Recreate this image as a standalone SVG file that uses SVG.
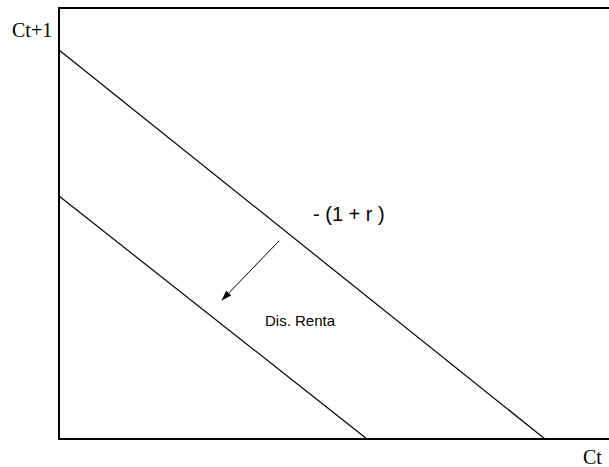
<svg xmlns="http://www.w3.org/2000/svg" width="609" height="467" viewBox="0 0 609 467">
  <style>
    .axis { stroke: #000; stroke-width: 2; fill: none; }
    .budget { stroke: #000; stroke-width: 1.2; fill: none; }
    .arrow { stroke: #000; stroke-width: 1; fill: none; }
    .serif { font-family: "Liberation Serif", "Times New Roman", serif; fill: #000; }
    .sans { font-family: "Liberation Sans", Arial, sans-serif; fill: #000; }
  </style>
  <defs>
    <marker id="head" viewBox="0 0 12 8" refX="11" refY="4" markerWidth="12" markerHeight="7" markerUnits="userSpaceOnUse" orient="auto">
      <path d="M0,0 L12,4 L0,8 Z" fill="#000"/>
    </marker>
  </defs>
  <rect width="609" height="467" fill="#fff"/>
  <g id="axes">
    <path class="axis" d="M609,8 H59 V439 H609"/>
  </g>
  <g id="labels">
    <text class="serif" x="12" y="37" font-size="20">Ct+1</text>
    <text class="serif" x="583" y="464" font-size="20">Ct</text>
  </g>
  <g id="connectors">
    <line id="budget-original" class="budget" x1="59" y1="50" x2="545" y2="439"/>
    <line id="budget-new" class="budget" x1="59" y1="196" x2="367" y2="439"/>
    <line id="shift-arrow" class="arrow" x1="279" y1="241" x2="222" y2="300" marker-end="url(#head)"/>
  </g>
  <g id="slope-label">
    <text class="sans" x="313" y="221" font-size="20">- (1 + r )</text>
  </g>
  <g id="shift-label">
    <text class="sans" x="265" y="326" font-size="15">Dis. Renta</text>
  </g>
</svg>
